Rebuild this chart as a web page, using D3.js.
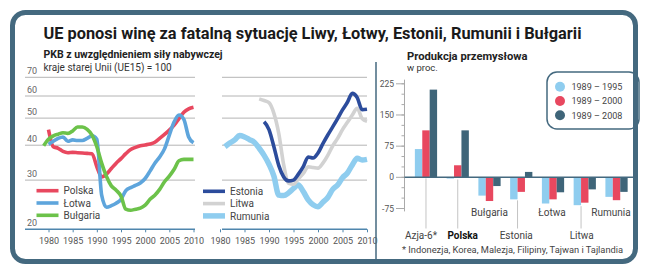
<!DOCTYPE html>
<html><head><meta charset="utf-8">
<script src="https://cdn.jsdelivr.net/npm/d3@7"></script>
<style>body{margin:0;background:#fff}svg{display:block}text{font-family:Roboto,"Noto Sans",sans-serif}</style>
</head><body><svg id="c" width="650" height="269"></svg>
<script>
// ---------- DATA ----------
const title = "UE ponosi winę za fatalną sytuację Liwy, Łotwy, Estonii, Rumunii i Bułgarii";
const gdpTitle = "PKB z uwzględnieniem siły nabywczej";
const gdpSubtitle = "kraje starej Unii (UE15) = 100";
const gdpTicks = [20, 30, 40, 50, 60, 70];
const yearTicks = [1980, 1985, 1990, 1995, 2000, 2005, 2010];

const polskaStart = 1980;
const polska = [45.5,39.5,39,38,37.6,37.7,37.6,37.5,37.4,37.3,33.5,30.8,31.5,33,34.5,35.8,37.3,38.6,39.3,39.8,40.1,40.4,41,42.3,43.7,45.3,47.2,49.8,52.5,54,54.7];
const lotwaStart = 1980;
const lotwa = [40.3,41.3,42.3,42.8,41.3,41.8,41.6,41.6,42.3,43.2,42,26.5,24.0,24.3,24.8,25.6,27.5,28.2,28.7,29.3,30.4,32.3,34.5,36.3,38.8,43.5,48.5,51.3,49.5,42.8,40.8];
const bulgariaStart = 1979;
const bulgaria = [39.8,42.0,43.2,43.8,44.3,44.1,45.0,46.5,46.5,45.6,43.5,39.5,34.5,30.9,28.6,27.6,26.3,23.6,23.4,23.6,23.8,24.4,25.6,26.5,27.8,29.6,31.0,32.8,35.2,35.6,35.6,35.6];

const estoniaStart = 1989;
const estonia = [48.5,45.5,39.5,33.8,30.8,29.8,30.0,31.5,33.5,36.3,36.0,37.5,40.5,43.5,46.5,49.8,53.5,57,61.3,59.2,53.6,53.8];
const litwaStart = 1988;
const litwa = [58.6,57.8,56.8,52,44,34,29.2,29.0,30.3,31.7,33.5,33.3,33.1,34.5,36.8,39.8,42.3,45.5,48.3,51.3,54.2,49.8,48.7];
const rumuniaStart = 1981;
const rumunia = [39.5,40.7,41.8,43.3,42.8,41.9,41.0,39.0,36.8,34.2,31.0,26.5,26.4,27.0,28.0,28.8,27.3,25.5,24.5,24.1,25.0,26.0,27.8,28.8,30.6,31.8,34.0,35.9,35.4,35.6];

const prodTitle = "Produkcja przemysłowa";
const prodSubtitle = "w proc.";
const categories = ["Azja-6*", "Polska", "Bułgaria", "Estonia", "Łotwa", "Litwa", "Rumunia"];
const p1995 = [68, -3, -44, -53, -63, -67, -47];
const p2000 = [113, 29, -57, -35, -53, -61, -55];
const p2008 = [211, 113, -21, 13, -36, -29, -35];
const periods = ["1989 – 1995", "1989 – 2000", "1989 – 2008"];
const barTicks = [-75, 0, 75, 150, 225];
const footnote = "* Indonezja, Korea, Malezja, Filipiny, Tajwan i Tajlandia";

// ---------- STYLE ----------
const FRAME = "#44697f";
const C = {red:"#e8485f", blue:"#5ea5dc", green:"#6cc24a", navy:"#2c4c9c", gray:"#d2d2d2", sky:"#8fcdef", dark:"#3f6579"};

const svg = d3.select("#c");
svg.append("rect").attr("width",650).attr("height",269).attr("fill","#fff");

// titles
svg.append("text").attr("x",43.5).attr("y",39).attr("font-size",16).attr("font-weight",700)
  .attr("fill","#1a1a1a").attr("textLength",538).attr("lengthAdjust","spacingAndGlyphs").text(title);
svg.append("text").attr("x",43.5).attr("y",57.5).attr("font-size",10.5).attr("font-weight",700)
  .attr("fill","#222").text(gdpTitle);
svg.append("text").attr("x",43.5).attr("y",70.5).attr("font-size",10).attr("fill","#333").text(gdpSubtitle);

// ---------- LINE PANELS ----------
const y = d3.scaleLog().domain([20,70]).range([229.3,77.3]);
const xL = d3.scaleLinear().domain([1980,2010]).range([48.5,193.5]);
const xM = d3.scaleLinear().domain([1980,2010]).range([220,367]);
const AXIS = "#4f86ad";

function panel(x, x0, x1, labels) {
  const g = svg.append("g");
  g.selectAll("line.grid").data(gdpTicks.filter(d=>d>20)).join("line")
    .attr("x1",x0).attr("x2",x1).attr("y1",d=>y(d)).attr("y2",d=>y(d))
    .attr("stroke","#b4b4b4").attr("stroke-width",1);
  if (labels) {
    g.selectAll("text.yl").data(gdpTicks).join("text")
      .attr("x",27).attr("y",d=>y(d)-3).attr("font-size",9).attr("fill","#666").text(d=>d);
  }
  const ax = g.append("g").attr("transform","translate(0,229.3)")
    .call(d3.axisBottom(x).tickValues(yearTicks).tickFormat(d3.format("d")).tickSize(3).tickPadding(5));
  ax.select(".domain").remove();
  ax.selectAll(".tick line").attr("stroke",AXIS);
  ax.selectAll(".tick text").attr("font-size",9).attr("fill","#555").attr("font-family","Roboto");
  g.append("line").attr("x1",x0).attr("x2",x1).attr("y1",229.3).attr("y2",229.3)
    .attr("stroke",AXIS).attr("stroke-width",1.6);
  return g;
}
panel(xL, 25, 195, true);
panel(xM, 222, 367, false);

function drawLine(x, start, vals, color, w) {
  const pts = vals.map((v,i)=>[start+i, v]);
  svg.append("path").datum(pts)
    .attr("d", d3.line().x(d=>x(d[0])).y(d=>y(d[1])).curve(d3.curveMonotoneX))
    .attr("fill","none").attr("stroke",color).attr("stroke-width",w)
    .attr("stroke-linejoin","round").attr("stroke-linecap","butt");
}
drawLine(xL, polskaStart, polska, C.red, 3.6);
drawLine(xL, lotwaStart, lotwa, C.blue, 3.6);
drawLine(xL, bulgariaStart, bulgaria, C.green, 3.6);
drawLine(xM, rumuniaStart, rumunia, C.sky, 5.5);
drawLine(xM, litwaStart, litwa, C.gray, 3.6);
drawLine(xM, estoniaStart, estonia, C.navy, 3.6);

function legend(x, y0, items) {
  items.forEach((it,i)=>{
    const yy = y0 + i*12.3;
    svg.append("line").attr("x1",x).attr("x2",x+22).attr("y1",yy).attr("y2",yy)
      .attr("stroke",it[1]).attr("stroke-width",it[2]);
    svg.append("text").attr("x",x+27).attr("y",yy+3.6).attr("font-size",10).attr("fill","#444").text(it[0]);
  });
}
legend(36.5, 190.7, [["Polska",C.red,3.6],["Łotwa",C.blue,3.6],["Bułgaria",C.green,3.6]]);
legend(203, 191.3, [["Estonia",C.navy,3.6],["Litwa",C.gray,3.6],["Rumunia",C.sky,5.5]]);

// divider
svg.append("line").attr("x1",376).attr("x2",376).attr("y1",62).attr("y2",262)
  .attr("stroke",FRAME).attr("stroke-width",1.5);

// ---------- BAR PANEL ----------
svg.append("text").attr("x",407).attr("y",60).attr("font-size",11.2).attr("font-weight",700).attr("fill","#222").text(prodTitle);
svg.append("text").attr("x",407).attr("y",70.5).attr("font-size",9.5).attr("fill","#333").text(prodSubtitle);

const yb = d3.scaleLinear().domain([-75,225]).range([208.5,83.8]);
const xb = d3.scaleBand().domain(categories).range([410.1,632.4]).paddingInner(0.3).paddingOuter(0.15);
const xs = d3.scaleBand().domain([0,1,2]).range([0,xb.bandwidth()]);
const series = [p1995, p2000, p2008];
const barColors = [C.sky, C.red, C.dark];

// axis
svg.append("line").attr("x1",404.5).attr("x2",404.5).attr("y1",yb(235)).attr("y2",yb(-82))
  .attr("stroke","#aaa").attr("stroke-width",1);
svg.selectAll("line.minor").data(d3.range(-75,226,25)).join("line")
  .attr("x1",401.5).attr("x2",404.5).attr("y1",d=>yb(d)).attr("y2",d=>yb(d)).attr("stroke","#aaa");
svg.selectAll("line.major").data(barTicks).join("line")
  .attr("x1",396).attr("x2",404.5).attr("y1",d=>yb(d)).attr("y2",d=>yb(d)).attr("stroke","#aaa");
svg.selectAll("text.bt").data(barTicks).join("text")
  .attr("x",394).attr("y",d=>yb(d)+3).attr("text-anchor","end").attr("font-size",8.5).attr("fill","#555").text(d=>d);

// leader lines + labels
const labelLow = [true, true, false, true, false, true, false];
const labelShift = [-5, 5, 0, -5, -1, -3, -5.5];
categories.forEach((c,i)=>{
  const cx = xb(c) + xb.bandwidth()/2;
  const minV = Math.min(0, p1995[i], p2000[i], p2008[i]);
  const ly = labelLow[i] ? 238.5 : 216;
  if (labelLow[i]) {
    const lx = (i===3 || i===5) ? xb(c)+xs(1) : cx;
    svg.append("line").attr("x1",lx).attr("x2",lx).attr("y1",yb(minV)+1).attr("y2",ly-10)
      .attr("stroke","#c4c4c4").attr("stroke-width",1);
  }
  svg.append("text").attr("x",cx+labelShift[i]).attr("y",ly).attr("text-anchor","middle")
    .attr("font-size",10).attr("font-weight",c==="Polska"?700:400)
    .attr("fill",c==="Polska"?"#111":"#444").text(c);
});

series.forEach((s,k)=>{
  svg.selectAll(null).data(s).join("rect")
    .attr("x",(d,i)=>xb(categories[i])+xs(k)).attr("width",xs.bandwidth())
    .attr("y",d=>yb(Math.max(0,d))).attr("height",d=>Math.abs(yb(d)-yb(0)))
    .attr("fill",barColors[k]);
});
svg.append("line").attr("x1",404.5).attr("x2",634).attr("y1",yb(0)).attr("y2",yb(0))
  .attr("stroke",FRAME).attr("stroke-width",1.5);

svg.append("text").attr("x",402).attr("y",253).attr("font-size",9.3).attr("fill","#444").text(footnote);

// legend box
svg.append("rect").attr("x",547).attr("y",72).attr("width",92).attr("height",57).attr("rx",10)
  .attr("fill","#fff").attr("stroke",FRAME).attr("stroke-width",1.5);
periods.forEach((p,i)=>{
  const yy = 86.7 + i*14.3;
  svg.append("circle").attr("cx",560).attr("cy",yy).attr("r",5).attr("fill",barColors[i]);
  svg.append("text").attr("x",571.5).attr("y",yy+3.3).attr("font-size",9).attr("fill","#444").text(p);
});

// frame
svg.append("rect").attr("x",12.5).attr("y",12.5).attr("width",623).attr("height",249).attr("rx",13)
  .attr("fill","none").attr("stroke",FRAME).attr("stroke-width",5);
</script></body></html>
